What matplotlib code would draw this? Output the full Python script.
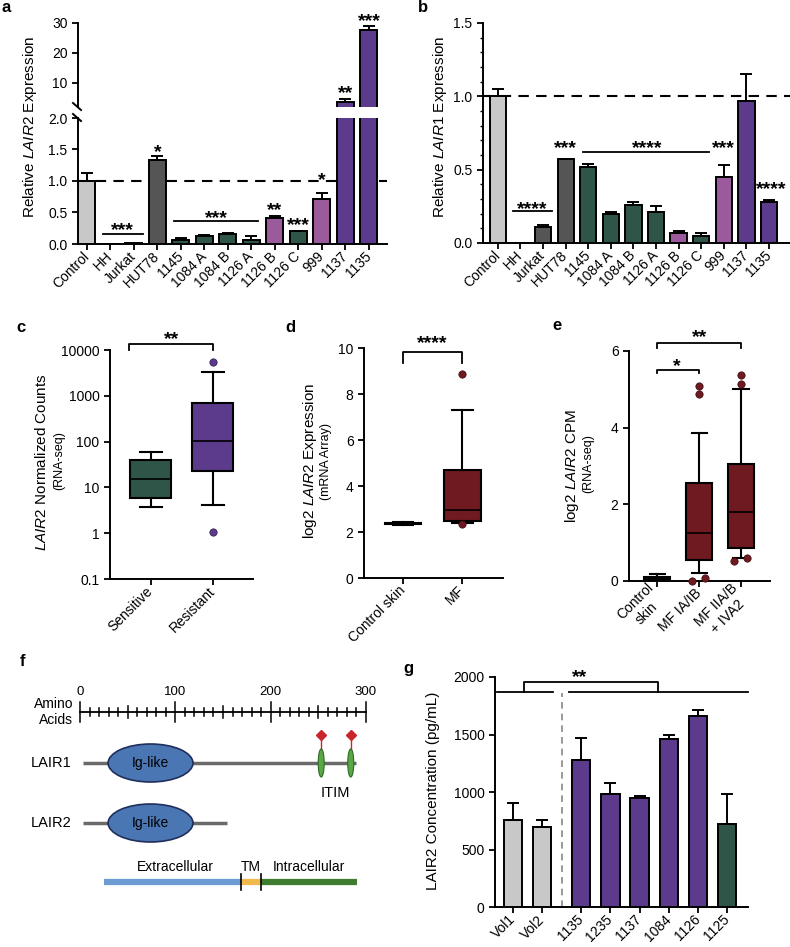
import numpy as np
import matplotlib
matplotlib.use('Agg')
import matplotlib.pyplot as plt
from matplotlib.patches import Ellipse
from matplotlib.ticker import FormatStrFormatter, MultipleLocator

plt.rcParams['font.family'] = ['Liberation Sans', 'DejaVu Sans']
plt.rcParams['mathtext.fontset'] = 'custom'
plt.rcParams['mathtext.rm'] = 'Liberation Sans'
plt.rcParams['mathtext.it'] = 'Liberation Sans:italic'
plt.rcParams['axes.linewidth'] = 1.4

# ---- datos ----
# a / b: lineas celulares y muestras
samples_ab = ['Control', 'HH', 'Jurkat', 'HUT78', '1145', '1084 A', '1084 B',
              '1126 A', '1126 B', '1126 C', '999', '1137', '1135']
group_ab = ['ctrl', 'line', 'line', 'line', 'green', 'green', 'green',
            'green', 'pink', 'green', 'pink', 'purple', 'purple']
lair2_mean = [1.0, 0.005, 0.01, 1.33, 0.07, 0.12, 0.16, 0.06, 0.41, 0.20, 0.72, 3.5, 27.5]
lair2_err = [0.13, 0.0, 0.0, 0.07, 0.03, 0.02, 0.02, 0.07, 0.04, 0.01, 0.09, 1.3, 1.4]
lair1_mean = [1.0, 0.0, 0.11, 0.57, 0.52, 0.20, 0.26, 0.21, 0.07, 0.05, 0.45, 0.97, 0.28]
lair1_err = [0.05, 0.0, 0.01, 0.005, 0.02, 0.01, 0.02, 0.04, 0.01, 0.02, 0.08, 0.18, 0.01]

# c: RNA-seq counts (boxplot stats)
c_groups = ['Sensitive', 'Resistant']
c_whislo = [3.8, 4.2]
c_q1 = [6.0, 23.0]
c_med = [15.0, 105.0]
c_q3 = [40.0, 700.0]
c_whishi = [60.0, 3300.0]
c_fliers = [[], [5500.0, 1.05]]

# d: mRNA array
d_groups = ['Control skin', 'MF']
d_whislo = [2.30, 2.40]
d_q1 = [2.33, 2.50]
d_med = [2.35, 2.95]
d_q3 = [2.38, 4.70]
d_whishi = [2.45, 7.30]
d_fliers = [[], [8.85, 2.35]]

# e: CPM
e_groups = ['Control\nskin', 'MF IA/IB', 'MF IIA/B\n+ IVA2']
e_whislo = [0.0, 0.22, 0.60]
e_q1 = [0.04, 0.55, 0.85]
e_med = [0.07, 1.25, 1.80]
e_q3 = [0.10, 2.55, 3.05]
e_whishi = [0.18, 3.85, 5.00]
e_fliers = [[], [5.10, 4.88, 0.0, 0.08], [5.38, 5.15, 0.53, 0.60]]
e_flier_dx = [[], [0, 0, -0.17, 0.15], [0, 0, -0.17, 0.15]]

# f: dominios (aminoacidos)
ruler_ticks = np.arange(0, 301, 10)
lair1_len = 289
lair2_len = 154
ig_center, ig_width = 74, 89
itim_pos = [253, 284]
domain_edges = [25, 169, 190, 291]
domain_names = ['Extracellular', 'TM', 'Intracellular']
domain_colors = ['#6b9bd2', '#efb94c', '#3e7c30']

# g: ELISA
g_samples = ['Vol1', 'Vol2', '1135', '1235', '1137', '1084', '1126', '1125']
g_group = ['ctrl', 'ctrl', 'purple', 'purple', 'purple', 'purple', 'purple', 'green']
g_mean = [760, 700, 1275, 985, 950, 1465, 1660, 720]
g_err = [145, 60, 195, 95, 15, 30, 50, 260]

colores = {'ctrl': '#c8c8c8', 'line': '#555555', 'green': '#2f5548',
           'pink': '#9b5a9b', 'purple': '#5c3a8c'}
rojo = '#6e1a20'

W, H = 790, 947
fig = plt.figure(figsize=(W / 100, H / 100), dpi=100)


def add_ax(l, t, r, b):
    return fig.add_axes([l / W, 1 - b / H, (r - l) / W, (b - t) / H])


def estilo(ax):
    ax.spines[['top', 'right']].set_visible(False)
    ax.tick_params(direction='out', length=4, width=1.3, labelsize=10)


def estrellas(ax, x, y, s, fs=14):
    ax.annotate(s, (x, y), xytext=(0, -0.6 * fs), textcoords='offset points',
                ha='center', va='baseline', fontsize=fs, fontweight='bold',
                annotation_clip=False)


def corchete(ax, x1, x2, y0, y1):
    ax.plot([x1, x1, x2, x2], [y0, y1, y1, y0], color='k', lw=1.3, clip_on=False)


def barras(ax, x, vals, errs, cols, width):
    ax.bar(x, vals, width=width, color=cols, edgecolor='black', linewidth=1.4, zorder=3)
    errs = np.asarray(errs, float)
    m = errs > 0
    ax.errorbar(np.asarray(x)[m], np.asarray(vals)[m], yerr=[np.zeros(m.sum()), errs[m]],
                fmt='none', ecolor='black', elinewidth=1.4, capsize=4.5, capthick=1.4, zorder=4)


def cajas(ax, pos, lo, q1, med, q3, hi, cols, width, capw):
    stats = [dict(whislo=a, q1=b, med=c, q3=d, whishi=e, fliers=[])
             for a, b, c, d, e in zip(lo, q1, med, q3, hi)]
    bp = ax.bxp(stats, positions=pos, widths=width, capwidths=capw, patch_artist=True,
                showfliers=False,
                boxprops=dict(edgecolor='black', linewidth=1.5),
                medianprops=dict(color='black', linewidth=1.2),
                whiskerprops=dict(color='black', linewidth=1.5),
                capprops=dict(color='black', linewidth=1.5))
    for p, c in zip(bp['boxes'], cols):
        p.set_facecolor(c)


def ylab(px, py, s, fs=11):
    fig.text(px / W, 1 - py / H, s, rotation=90, ha='center', va='center', fontsize=fs)


def etiqueta(px, py, s):
    fig.text(px / W, 1 - py / H, s, ha='center', va='center', fontsize=12, fontweight='bold')


def xlabels(ax, pos, labels, **kw):
    ax.set_xticks(pos)
    ax.set_xticklabels(labels, rotation=45, ha='right', va='center',
                       rotation_mode='anchor', fontsize=10, **kw)


# ---- panel a (eje partido) ----
xa = np.arange(len(samples_ab))
cols_a = [colores[g] for g in group_ab]
ax_lo = add_ax(78, 118, 387, 244)
ax_hi = add_ax(78, 23, 387, 107)
for ax in (ax_lo, ax_hi):
    estilo(ax)
    barras(ax, xa, lair2_mean, lair2_err, cols_a, 0.72)
    ax.set_xlim(-0.38, 12.77)
ax_lo.set_ylim(0, 2)
ax_lo.set_yticks([0, 0.5, 1.0, 1.5, 2.0])
ax_lo.yaxis.set_major_formatter(FormatStrFormatter('%.1f'))
ax_lo.axhline(1.0, ls=(0, (5, 3.5)), color='k', lw=1.5, zorder=1)
xlabels(ax_lo, xa, samples_ab)
ax_hi.set_ylim(2, 30)
ax_hi.set_yticks([10, 20, 30])
ax_hi.spines['bottom'].set_visible(False)
ax_hi.set_xticks([])
for yb in (107, 118):
    fig.add_artist(plt.Line2D([73 / W, 81 / W], [1 - (yb - 4) / H, 1 - (yb + 3) / H],
                              color='k', lw=1.4))
corchete(ax_lo, 0.68, 2.38, 0.16, 0.16)
estrellas(ax_lo, 1.5, 0.33, '***')
estrellas(ax_lo, 3, 1.57, '*')
corchete(ax_lo, 3.7, 7.3, 0.37, 0.37)
estrellas(ax_lo, 5.5, 0.52, '***')
estrellas(ax_lo, 8, 0.65, '**')
estrellas(ax_lo, 9, 0.41, '***')
estrellas(ax_lo, 10, 1.12, '*')
estrellas(ax_hi, 11, 8.7, '**')
estrellas(ax_hi, 12, 32.7, '***')
ylab(30, 127, r'Relative $\mathit{LAIR2}$ Expression')
etiqueta(6, 8, 'a')

# ---- panel b ----
ax = add_ax(483, 23, 790, 243)
estilo(ax)
barras(ax, xa, lair1_mean, lair1_err, cols_a, 0.72)
ax.set_xlim(-0.66, 12.93)
ax.set_ylim(0, 1.5)
ax.set_yticks([0, 0.5, 1.0, 1.5])
ax.yaxis.set_minor_locator(MultipleLocator(0.1))
ax.tick_params(which='minor', length=2.5, width=1.0)
ax.yaxis.set_major_formatter(FormatStrFormatter('%.1f'))
ax.axhline(1.0, ls=(0, (5, 3.5)), color='k', lw=1.5, zorder=1)
xlabels(ax, xa, samples_ab)
corchete(ax, 0.66, 2.4, 0.22, 0.22)
estrellas(ax, 1.5, 0.28, '****')
estrellas(ax, 3, 0.69, '***')
corchete(ax, 3.76, 9.34, 0.62, 0.62)
estrellas(ax, 6.6, 0.69, '****')
estrellas(ax, 10, 0.69, '***')
estrellas(ax, 12.1, 0.41, '****')
ylab(440, 127, r'Relative $\mathit{LAIR1}$ Expression')
etiqueta(423, 8, 'b')

# ---- panel c ----
ax = add_ax(110, 350, 253, 579)
estilo(ax)
xc = np.arange(len(c_groups))
cols_c = [colores['green'], colores['purple']]
cajas(ax, xc, c_whislo, c_q1, c_med, c_q3, c_whishi, cols_c, 0.66, 0.35)
for i, fl in enumerate(c_fliers):
    ax.scatter([xc[i]] * len(fl), fl, s=28, color=cols_c[i], edgecolor='#2a1a45',
               linewidth=0.5, zorder=5, clip_on=False)
ax.set_yscale('log')
ax.set_ylim(0.1, 10000)
ax.set_yticks([0.1, 1, 10, 100, 1000, 10000])
ax.set_yticklabels(['0.1', '1', '10', '100', '1000', '10000'])
ax.yaxis.set_minor_locator(matplotlib.ticker.NullLocator())
ax.set_xlim(-0.66, 1.65)
xlabels(ax, xc, c_groups)
corchete(ax, -0.35, 1, 10000, 13500)
estrellas(ax, 0.34, 24700, '**')
ylab(42, 462, r'$\mathit{LAIR2}$ Normalized Counts')
ylab(59, 461, '(RNA-seq)', fs=9)
etiqueta(21, 327, 'c')

# ---- panel d ----
ax = add_ax(364, 348, 503, 578)
estilo(ax)
xd = np.arange(len(d_groups))
cajas(ax, xd, d_whislo, d_q1, d_med, d_q3, d_whishi, ['black', rojo], 0.62, 0.35)
for i, fl in enumerate(d_fliers):
    ax.scatter([xd[i]] * len(fl), fl, s=28, color=rojo, edgecolor='#3a0a0e',
               linewidth=0.5, zorder=5, clip_on=False)
ax.set_ylim(0, 10)
ax.set_yticks([0, 2, 4, 6, 8, 10])
ax.set_xlim(-0.66, 1.69)
xlabels(ax, xd, d_groups)
corchete(ax, 0, 1, 9.35, 9.83)
estrellas(ax, 0.5, 10.5, '****')
ylab(310, 461, r'log2 $\mathit{LAIR2}$ Expression')
ylab(326, 461, '(mRNA Array)', fs=9)
etiqueta(290, 327, 'd')

# ---- panel e ----
ax = add_ax(629, 351, 770, 581)
estilo(ax)
xe = np.arange(len(e_groups))
cajas(ax, xe, e_whislo, e_q1, e_med, e_q3, e_whishi, ['black', rojo, rojo], 0.62, 0.36)
for i, fl in enumerate(e_fliers):
    ax.scatter(xe[i] + np.array(e_flier_dx[i], float), fl, s=28, color=rojo,
               edgecolor='#3a0a0e', linewidth=0.5, zorder=5, clip_on=False)
ax.set_ylim(0, 6)
ax.set_yticks([0, 2, 4, 6])
ax.set_xlim(-0.67, 2.69)
xlabels(ax, xe, e_groups, multialignment='center')
corchete(ax, 0, 1, 5.43, 5.51)
estrellas(ax, 0.48, 5.77, '*')
corchete(ax, 0, 2, 6.08, 6.21)
estrellas(ax, 1.02, 6.55, '**')
ylab(572, 466, r'log2 $\mathit{LAIR2}$ CPM')
ylab(588, 464, '(RNA-seq)', fs=9)
etiqueta(557, 325, 'e')

# ---- panel f (diagrama) ----
ax = add_ax(0, 650, 380, 947)
ax.set_axis_off()
aa_px = 300 / 286
ax.set_xlim(-80 * aa_px, 300 * aa_px)
ax.set_ylim(947, 650)
y_rul, y_l1, y_l2, y_dom = 712, 763, 823, 882
ax.plot([0, 300], [y_rul, y_rul], color='k', lw=1.3)
for t in ruler_ticks:
    hh = 10 if t % 100 == 0 else (6 if t % 50 == 0 else 4)
    ax.plot([t, t], [y_rul - hh, y_rul + hh], color='k', lw=1.1)
for t in (0, 100, 200, 300):
    ax.text(t, 692, str(t), ha='center', va='center', fontsize=9.5)
ax.text(-7, y_rul, 'Amino\nAcids', ha='right', va='center', fontsize=10, linespacing=1.15)
gris = '#6a6a6a'
ax.plot([3, lair1_len], [y_l1, y_l1], color=gris, lw=2.5, solid_capstyle='butt', zorder=1)
ax.plot([3, lair2_len], [y_l2, y_l2], color=gris, lw=2.5, solid_capstyle='butt', zorder=1)
for yy, nombre in ((y_l1, 'LAIR1'), (y_l2, 'LAIR2')):
    ax.add_patch(Ellipse((ig_center, yy), ig_width, 38, facecolor='#4a77b4',
                         edgecolor='#1f2f5c', lw=1.2, zorder=2))
    ax.text(ig_center, yy, 'Ig-like', ha='center', va='center', fontsize=10, zorder=3)
    ax.text(-9, yy, nombre, ha='right', va='center', fontsize=10.5)
for p in itim_pos:
    ax.plot([p, p], [735, 749], color='#c8262c', lw=1.0, zorder=2)
    ax.plot([p], [735], marker='D', ms=5, color='#c8262c', zorder=4)
    ax.add_patch(Ellipse((p, y_l1), 6.3, 28, facecolor='#5aa845', edgecolor='#2d6a23',
                         lw=0.8, zorder=3))
ax.text(np.mean(itim_pos) - 1, 793, 'ITIM', ha='center', va='center', fontsize=10.5)
for i, nombre in enumerate(domain_names):
    a0, a1 = domain_edges[i], domain_edges[i + 1]
    ax.plot([a0, a1], [y_dom, y_dom], color=domain_colors[i], lw=4.5, solid_capstyle='butt')
    ax.text((a0 + a1) / 2 + (3 if i == 0 else 0), 867, nombre, ha='center', va='center', fontsize=10)
for e in domain_edges[1:3]:
    ax.plot([e, e], [y_dom - 8, y_dom + 8], color='k', lw=1.2)
etiqueta(22, 662, 'f')

# ---- panel g ----
ax = add_ax(495, 677, 748, 907)
estilo(ax)
idx = np.arange(len(g_samples))
xg = idx + np.where(idx >= 2, 0.34, 0.0)
barras(ax, xg, g_mean, g_err, [colores[g] for g in g_group], 0.63)
ax.set_xlim(-0.62, 8.06)
ax.set_ylim(0, 2000)
ax.set_yticks([0, 500, 1000, 1500, 2000])
xlabels(ax, xg, g_samples)
ax.plot([1.67, 1.67], [0, 1860], color='#888888', ls=(0, (4, 3)), lw=1.2, zorder=1)
ax.plot([-0.55, 1.37], [1870, 1870], color='k', lw=1.3, clip_on=False)
ax.plot([1.92, 8.06], [1870, 1870], color='k', lw=1.3, clip_on=False)
corchete(ax, 0.38, 4.97, 1870, 1957)
estrellas(ax, 2.29, 2060, '**')
ylab(433, 791, 'LAIR2 Concentration (pg/mL)')
etiqueta(408, 669, 'g')

fig.savefig('out.png', dpi=100)
